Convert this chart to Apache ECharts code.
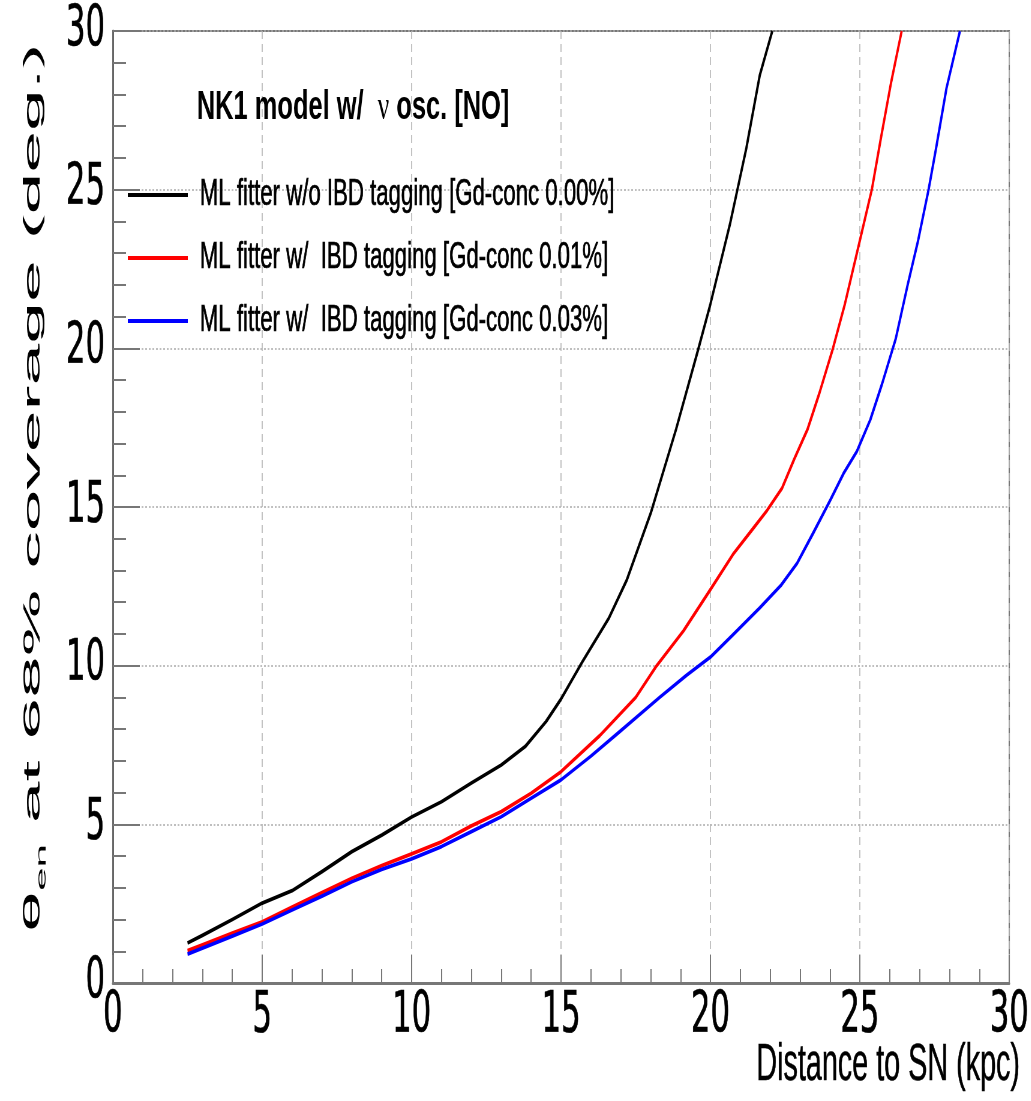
<!DOCTYPE html>
<html><head><meta charset="utf-8">
<script src="https://cdn.jsdelivr.net/npm/echarts@6/dist/echarts.min.js"></script>
<style>
html,body{margin:0;padding:0;background:#fff;overflow:hidden;width:1031px;height:1101px}
#wrap{width:1031px;height:1101px;overflow:hidden;position:relative}
#c{width:1718px;height:1101px;transform:scaleX(0.6);transform-origin:0 0;position:absolute;left:0;top:0}
</style></head><body><div id="wrap"><div id="c"></div></div>
<script>
const seriesNames = [
  'ML fitter w/o IBD tagging [Gd-conc 0.00%]',
  'ML fitter w/  IBD tagging [Gd-conc 0.01%]',
  'ML fitter w/  IBD tagging [Gd-conc 0.03%]'
];
const xTickLabels = ['0', '5', '10', '15', '20', '25', '30'];
const yTickLabels = ['0', '5', '10', '15', '20', '25', '30'];

const blackX = [2.5, 3, 4, 5, 6, 7, 8, 9, 10, 11, 12, 13, 13.8, 14.5, 15, 15.7, 16.6, 17.2, 18, 18.85, 19.6, 20, 20.65, 21.2, 21.65, 22.07];
const blackY = [1.26, 1.5, 2.0, 2.52, 2.91, 3.51, 4.14, 4.66, 5.23, 5.71, 6.3, 6.87, 7.45, 8.24, 8.95, 10.1, 11.5, 12.7, 14.8, 17.45, 20.0, 21.4, 23.9, 26.3, 28.6, 30];

const redX = [2.5, 3, 4, 5, 6, 7, 8, 9, 10, 11, 12, 13, 14, 15, 16.3, 17.5, 18.2, 19.1, 20, 20.75, 21.45, 21.9, 22.4, 22.8, 23.25, 23.65, 24.1, 24.5, 25, 25.4, 25.7, 26.05, 26.4];
const redY = [1.02, 1.2, 1.57, 1.93, 2.39, 2.85, 3.3, 3.7, 4.07, 4.45, 4.95, 5.4, 5.98, 6.66, 7.8, 9.0, 10.0, 11.1, 12.4, 13.5, 14.35, 14.9, 15.6, 16.5, 17.45, 18.6, 20.0, 21.4, 23.4, 25.0, 26.6, 28.4, 30];

const blueX = [2.5, 3, 4, 5, 6, 7, 8, 9, 10, 11, 12, 13, 14, 15, 16, 16.9, 18.3, 19.2, 20, 20.75, 21.65, 22.35, 22.9, 23.45, 24, 24.45, 24.9, 25.35, 25.75, 26.2, 26.6, 26.95, 27.3, 27.55, 27.9, 28.35];
const blueY = [0.91, 1.1, 1.48, 1.86, 2.3, 2.74, 3.19, 3.58, 3.91, 4.3, 4.77, 5.24, 5.82, 6.4, 7.15, 7.87, 9.0, 9.7, 10.27, 10.97, 11.82, 12.52, 13.23, 14.2, 15.2, 16.05, 16.75, 17.75, 18.9, 20.3, 22.0, 23.4, 25.0, 26.3, 28.2, 30];

const pair = (xs, ys) => xs.map((x, i) => [x, ys[i]]);
const tickFont = 'Liberation Sans Narrow, Arial Narrow, DejaVu Sans Condensed, sans-serif';

const chart = echarts.init(document.getElementById('c'));
const mkSeries = (name, data, color) => ({
  name, type: 'line', data, symbol: 'none', showSymbol: false, smooth: false, clip: true,
  lineStyle: { color, width: 3.8, join: 'round' }, itemStyle: { color }
});

chart.setOption({
  animation: false,
  backgroundColor: '#fff',
  grid: { left: 188, right: 30, top: 31, bottom: 118, show: true, borderColor: '#777', borderWidth: 2, backgroundColor: 'transparent' },
  xAxis: {
    type: 'value', min: 0, max: 30, interval: 5,
    axisLine: { show: true, onZero: false, lineStyle: { color: '#777', width: 3 } },
    axisTick: { show: true, inside: true, length: 28, lineStyle: { color: '#777', width: 2 } },
    minorTick: { show: true, splitNumber: 5, length: 14, lineStyle: { color: '#777', width: 2 } },
    axisLabel: { margin: 6, color: '#000', fontFamily: tickFont, fontSize: 57, showMinLabel: true, showMaxLabel: true,
      textBorderColor: '#000', textBorderWidth: 0.6,
      formatter: v => xTickLabels[Math.round(v / 5)] },
    splitLine: { show: true, lineStyle: { color: '#b4b4b4', width: 1.6, type: [8, 5] } }
  },
  yAxis: {
    type: 'value', min: 0, max: 30, interval: 5,
    axisLine: { show: true, onZero: false, lineStyle: { color: '#666', width: 3 } },
    axisTick: { show: true, inside: true, length: 45, lineStyle: { color: '#777', width: 2 } },
    minorTick: { show: true, splitNumber: 5, length: 22, lineStyle: { color: '#777', width: 2 } },
    axisLabel: { margin: 13, color: '#000', fontFamily: tickFont, fontSize: 57, showMinLabel: true, showMaxLabel: true,
      textBorderColor: '#000', textBorderWidth: 0.6,
      formatter: v => yTickLabels[Math.round(v / 5)] },
    splitLine: { show: true, lineStyle: { color: '#aaa', width: 1.5, type: [3, 3] } }
  },
  legend: {
    orient: 'vertical', left: 208, top: 171, icon: 'rect', itemWidth: 100, itemHeight: 4, itemGap: 25,
    textStyle: { fontFamily: 'Liberation Sans, Arial, sans-serif', fontSize: 37, color: '#000', lineHeight: 38,
      textBorderColor: '#000', textBorderWidth: 0.7, padding: [0, 0, 0, 15] },
    data: seriesNames
  },
  series: [
    mkSeries(seriesNames[0], pair(blackX, blackY), '#000000'),
    mkSeries(seriesNames[1], pair(redX, redY), '#ff0000'),
    mkSeries(seriesNames[2], pair(blueX, blueY), '#0000ff')
  ],
  graphic: [
    { type: 'text', x: 328, y: 108, scaleX: 1.06, z: 10,
      style: { text: '{b|NK1 model w/  }{g|ν}{b| osc. [NO]}', align: 'left', verticalAlign: 'middle',
        rich: { b: { fontFamily: 'Liberation Sans, Arial, sans-serif', fontWeight: 'bold', fontSize: 40, fill: '#000' },
                g: { fontFamily: 'Liberation Serif, serif', fontSize: 40, fill: '#000' } } } },
    { type: 'text', x: 1700, y: 1066, scaleX: 0.94, z: 10,
      style: { text: 'Distance to SN (kpc)', fontFamily: 'Liberation Sans, Arial, sans-serif', fontSize: 51, fill: '#000',
        stroke: '#000', lineWidth: 0.5, align: 'right', verticalAlign: 'middle' } },
    { type: 'text', x: 55, y: 488, rotation: Math.PI / 2, scaleY: 0.52, z: 10,
      style: { text: '{a|θ}{s|en}{a| at 68% coverage (deg.)}', align: 'center', verticalAlign: 'middle',
        rich: { a: { fontFamily: 'Liberation Sans, Arial, sans-serif', fontSize: 75, fill: '#000', lineHeight: 80 },
                s: { fontFamily: 'Liberation Sans, Arial, sans-serif', fontSize: 42, fill: '#000', lineHeight: 100, verticalAlign: 'bottom' } } } }
  ]
});
</script></body></html>
